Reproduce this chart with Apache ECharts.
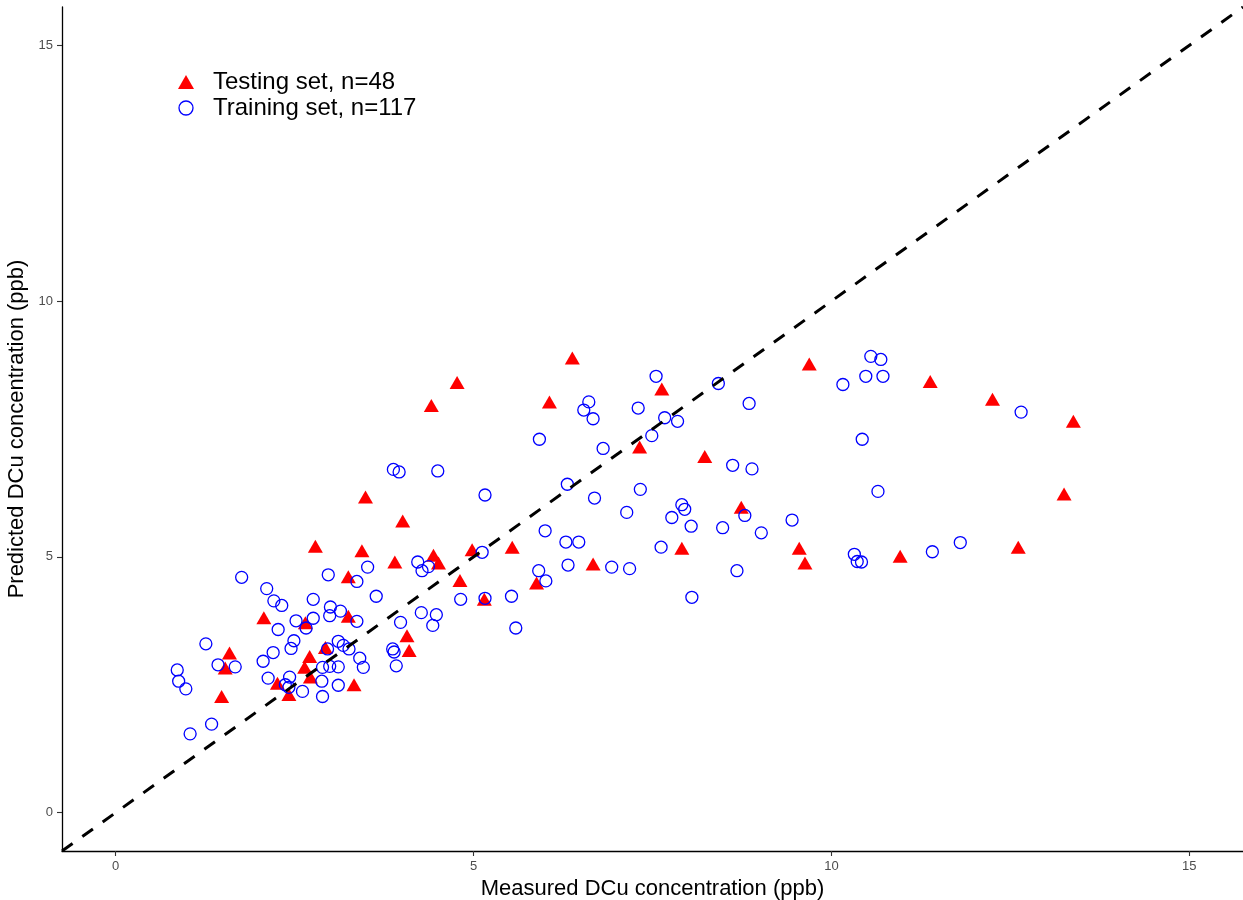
<!DOCTYPE html>
<html>
<head>
<meta charset="utf-8">
<title>Predicted vs measured DCu</title>
<script src="https://cdn.jsdelivr.net/npm/echarts@6/dist/echarts.min.js"></script>
<style>
  html, body { margin: 0; padding: 0; background: #fff; }
  #main { width: 1243px; height: 900px; }
</style>
</head>
<body>
<div id="main"></div>
<script>
// testing set (red triangles)
const testX = [1.48, 1.53, 1.59, 2.07, 2.26, 2.42, 2.64, 2.65, 2.71, 2.79, 2.93, 3.25, 3.25, 3.33, 3.44, 3.49, 3.90, 4.01, 4.07, 4.10, 4.41, 4.44, 4.51, 4.77, 4.81, 4.98, 5.15, 5.54, 5.88, 6.06, 6.38, 6.67, 7.32, 7.63, 7.91, 8.23, 8.74, 9.55, 9.63, 9.69, 10.96, 11.38, 12.25, 12.61, 13.25, 13.38, 2.72]
const testY = [2.27, 2.83, 3.12, 3.81, 2.53, 2.31, 2.84, 3.71, 3.05, 5.21, 3.23, 4.61, 3.84, 2.50, 5.12, 6.17, 4.90, 5.70, 3.46, 3.17, 7.96, 5.03, 4.88, 8.41, 4.54, 5.14, 4.17, 5.19, 4.49, 8.03, 8.89, 4.86, 7.15, 8.28, 5.17, 6.96, 5.97, 5.17, 4.88, 8.77, 5.01, 8.43, 8.08, 5.19, 6.23, 7.65, 2.65]

// training set (blue open circles)
const trainX = [1.76, 1.26, 0.86, 0.88, 0.98, 1.43, 1.67, 1.34, 1.04, 2.11,
  2.21, 2.32, 2.97, 2.76, 3.00, 3.14, 2.99, 2.76, 2.52, 2.66,
  2.27, 2.49, 2.45, 2.20, 2.06, 2.13, 2.43, 2.37, 2.42, 2.61,
  2.89, 2.88, 2.89, 2.99, 3.11, 3.11, 3.18, 2.96, 3.26, 3.41,
  3.46, 3.11, 3.37, 3.37, 3.52, 4.22, 4.37, 4.28, 5.12, 3.64,
  4.82, 5.16, 4.27, 4.48, 4.43, 3.98, 3.87, 3.89, 3.92, 3.88,
  3.96, 4.50, 5.16, 7.55, 6.61, 6.54, 6.67, 7.30, 7.67, 7.85,
  7.49, 5.92, 6.81, 6.31, 7.33, 6.69, 7.14, 7.91, 7.95, 7.77,
  8.04, 6.00, 6.29, 6.47, 7.62, 5.91, 6.01, 6.32, 6.93, 7.18,
  5.53, 5.59, 8.05, 8.42, 8.85, 8.62, 8.89, 8.79, 8.48, 9.02,
  9.45, 8.68, 10.32, 10.36, 10.42, 10.55, 10.69, 10.48, 10.72, 10.16,
  10.43, 10.65, 12.65, 11.41, 11.80]
const trainY = [4.60, 3.30, 2.79, 2.57, 2.42, 2.89, 2.85, 1.73, 1.54, 4.38,
  4.14, 4.05, 4.65, 4.17, 4.02, 3.94, 3.85, 3.80, 3.75, 3.61,
  3.58, 3.36, 3.21, 3.13, 2.96, 2.63, 2.65, 2.50, 2.45, 2.37,
  2.27, 2.57, 2.84, 2.86, 2.85, 3.35, 3.27, 3.20, 3.20, 3.02,
  2.84, 2.49, 4.52, 3.74, 4.80, 4.90, 4.81, 4.73, 5.09, 4.23,
  4.17, 4.19, 3.91, 3.87, 3.66, 3.72, 3.20, 3.14, 2.87, 6.71,
  6.66, 6.68, 6.21, 8.53, 8.03, 7.87, 7.70, 7.91, 7.72, 7.65,
  7.37, 7.30, 7.12, 6.42, 6.32, 6.15, 5.87, 6.02, 5.93, 5.77,
  5.60, 5.51, 5.29, 5.29, 5.19, 4.73, 4.53, 4.84, 4.80, 4.77,
  4.23, 3.61, 4.21, 8.39, 8.00, 6.79, 6.72, 5.81, 5.57, 5.47,
  5.72, 4.73, 5.05, 4.91, 4.90, 8.92, 8.86, 8.53, 8.53, 8.37,
  7.30, 6.28, 7.83, 5.10, 5.28]

// 1:1 line ends and axis ticks
const axisRange = [-0.75, 15.75]
const tickValues = [0, 5, 10, 15]

const font = '"Liberation Sans", Arial, sans-serif'
const zip = (xs, ys) => xs.map((x, i) => [x, ys[i]])

const axisCommon = {
  type: 'value',
  min: axisRange[0],
  max: axisRange[1],
  nameLocation: 'middle',
  nameTextStyle: { fontFamily: font, fontSize: 22, color: '#000' },
  axisLine: { show: true, onZero: false, lineStyle: { color: '#000', width: 1.3 } },
  axisTick: { show: true, length: 5, customValues: tickValues, lineStyle: { color: '#333', width: 1.1 } },
  axisLabel: { customValues: tickValues, fontFamily: font, fontSize: 13, color: '#4d4d4d', margin: 9 },
  splitLine: { show: false },
}

const chart = echarts.init(document.getElementById('main'))
chart.setOption({
  animation: false,
  backgroundColor: '#fff',
  grid: { left: 62, right: 0, top: 7, bottom: 49, containLabel: false, outerBoundsMode: 'none' },
  legend: {
    orient: 'vertical',
    left: 173,
    top: 64,
    itemWidth: 16,
    itemHeight: 14,
    itemGap: 0,
    textStyle: { fontFamily: font, fontSize: 24, color: '#000', lineHeight: 26, padding: [0, 0, 0, 14] },
    data: [
      { name: 'Testing set, n=48', icon: 'triangle', itemStyle: { color: '#ff0000' } },
      { name: 'Training set, n=117', icon: 'circle', itemStyle: { color: 'rgba(0,0,0,0)', borderColor: '#0000ff', borderWidth: 1.3 } },
    ],
  },
  xAxis: { ...axisCommon, name: 'Measured DCu concentration (ppb)', nameGap: 23 },
  yAxis: { ...axisCommon, name: 'Predicted DCu concentration (ppb)', nameGap: 25 },
  series: [
    {
      name: 'Testing set, n=48',
      type: 'scatter',
      symbol: 'triangle',
      symbolSize: [15, 13],
      itemStyle: { color: '#ff0000', opacity: 1 },
      data: zip(testX, testY),
      z: 2,
    },
    {
      name: 'Training set, n=117',
      type: 'scatter',
      symbol: 'circle',
      symbolSize: 12,
      itemStyle: { color: 'rgba(0,0,0,0)', borderColor: '#0000ff', borderWidth: 1.3, opacity: 1 },
      data: zip(trainX, trainY),
      z: 3,
    },
    {
      name: 'identity',
      type: 'line',
      data: zip(axisRange, axisRange),
      symbol: 'none',
      lineStyle: { color: '#000', width: 3, type: [13, 12] },
      silent: true,
      z: 4,
    },
  ],
})
</script>
</body>
</html>
